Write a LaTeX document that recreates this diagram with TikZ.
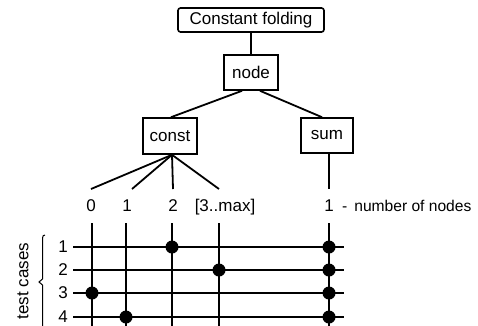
\documentclass[tikz,border=0pt]{standalone}
\usepackage{fontspec}
\setmainfont{Liberation Sans}
\begin{document}
\begin{tikzpicture}[x=1pt,y=-1pt,
  every node/.style={font=\fontsize{17}{20}\selectfont, inner sep=0pt},
  treebox/.style={draw, line width=1.6pt, minimum width=#1, minimum height=35pt},
  titlebox/.style={draw, line width=1.6pt, rounded corners=2.5pt,
    minimum width=146pt, minimum height=24pt},
  wire/.style={line width=1.8pt},
  grid line/.style={line width=1.6pt},
  dot/.style={circle, fill=black, minimum size=13pt},
  lbl/.style={anchor=base}
]
\useasboundingbox (0,0) rectangle (478,325);

% tree
\node[titlebox] (title) at (251,20) {Constant folding};
\node[treebox=54pt] (node) at (251,72.5) {node};
\node[treebox=54pt, minimum height=36pt] (const) at (170,136) {const};
\node[treebox=52pt] (sum) at (327,135.5) {sum};

\draw[wire] (title.south) -- (node.north);
\draw[wire] ([xshift=-9pt]node.south) -- ([xshift=1pt]const.north);
\draw[wire] ([xshift=9pt]node.south) -- ([xshift=-5pt]sum.north);

% value labels
\node[lbl] (l0) at (91,211) {0};
\node[lbl] (l1) at (127,211) {1};
\node[lbl] (l2) at (173,211) {2};
\node[lbl] (l3) at (225,211) {[3..max]};
\node[lbl] (ls) at (329,211) {1};
\node[lbl, anchor=base west, font=\fontsize{15.6}{18}\selectfont] (note) at (342,211) {-\, number of nodes};

\coordinate (e0) at (91,189);
\coordinate (e1) at (132,189);
\coordinate (e2) at (173,189);
\coordinate (e3) at (219,189);
\coordinate (es) at (329,189);
\coordinate (cs) at ([xshift=2pt]const.south);
\foreach \e in {e0,e1,e2,e3}
  \draw[wire] (cs) -- (\e);
\draw[wire] ([xshift=2pt]sum.south) -- (es);

% test case grid: columns
\foreach \n/\x in {0/92, 1/126, 2/172, 3/219, s/329} {
  \coordinate (t\n) at (\x,223);
  \coordinate (b\n) at (\x,327);
  \draw[grid line] (t\n) -- (b\n);
}
% rows
\foreach \r/\y in {1/247, 2/270, 3/293, 4/317} {
  \coordinate (a\r) at (73,\y);
  \coordinate (z\r) at (344,\y);
  \draw[grid line] (a\r) -- (z\r);
  \node (rl\r) at (63,\y) {\r};
}

% covered values
\node[dot] (d12) at (t2 |- a1) {};
\node[dot] (d23) at (t3 |- a2) {};
\node[dot] (d30) at (t0 |- a3) {};
\node[dot] (d41) at (t1 |- a4) {};
\foreach \r in {1,2,3,4}
  \node[dot] (ds\r) at (ts |- a\r) {};

% test cases brace
\node[rotate=90] (tc) at (23,281) {test cases};
\draw[line width=1pt] (45,235) .. controls (43,235.5) .. (42.5,238) -- (42.5,279)
  -- (39,282) -- (42.5,285) -- (42.5,327);
\end{tikzpicture}
\end{document}
